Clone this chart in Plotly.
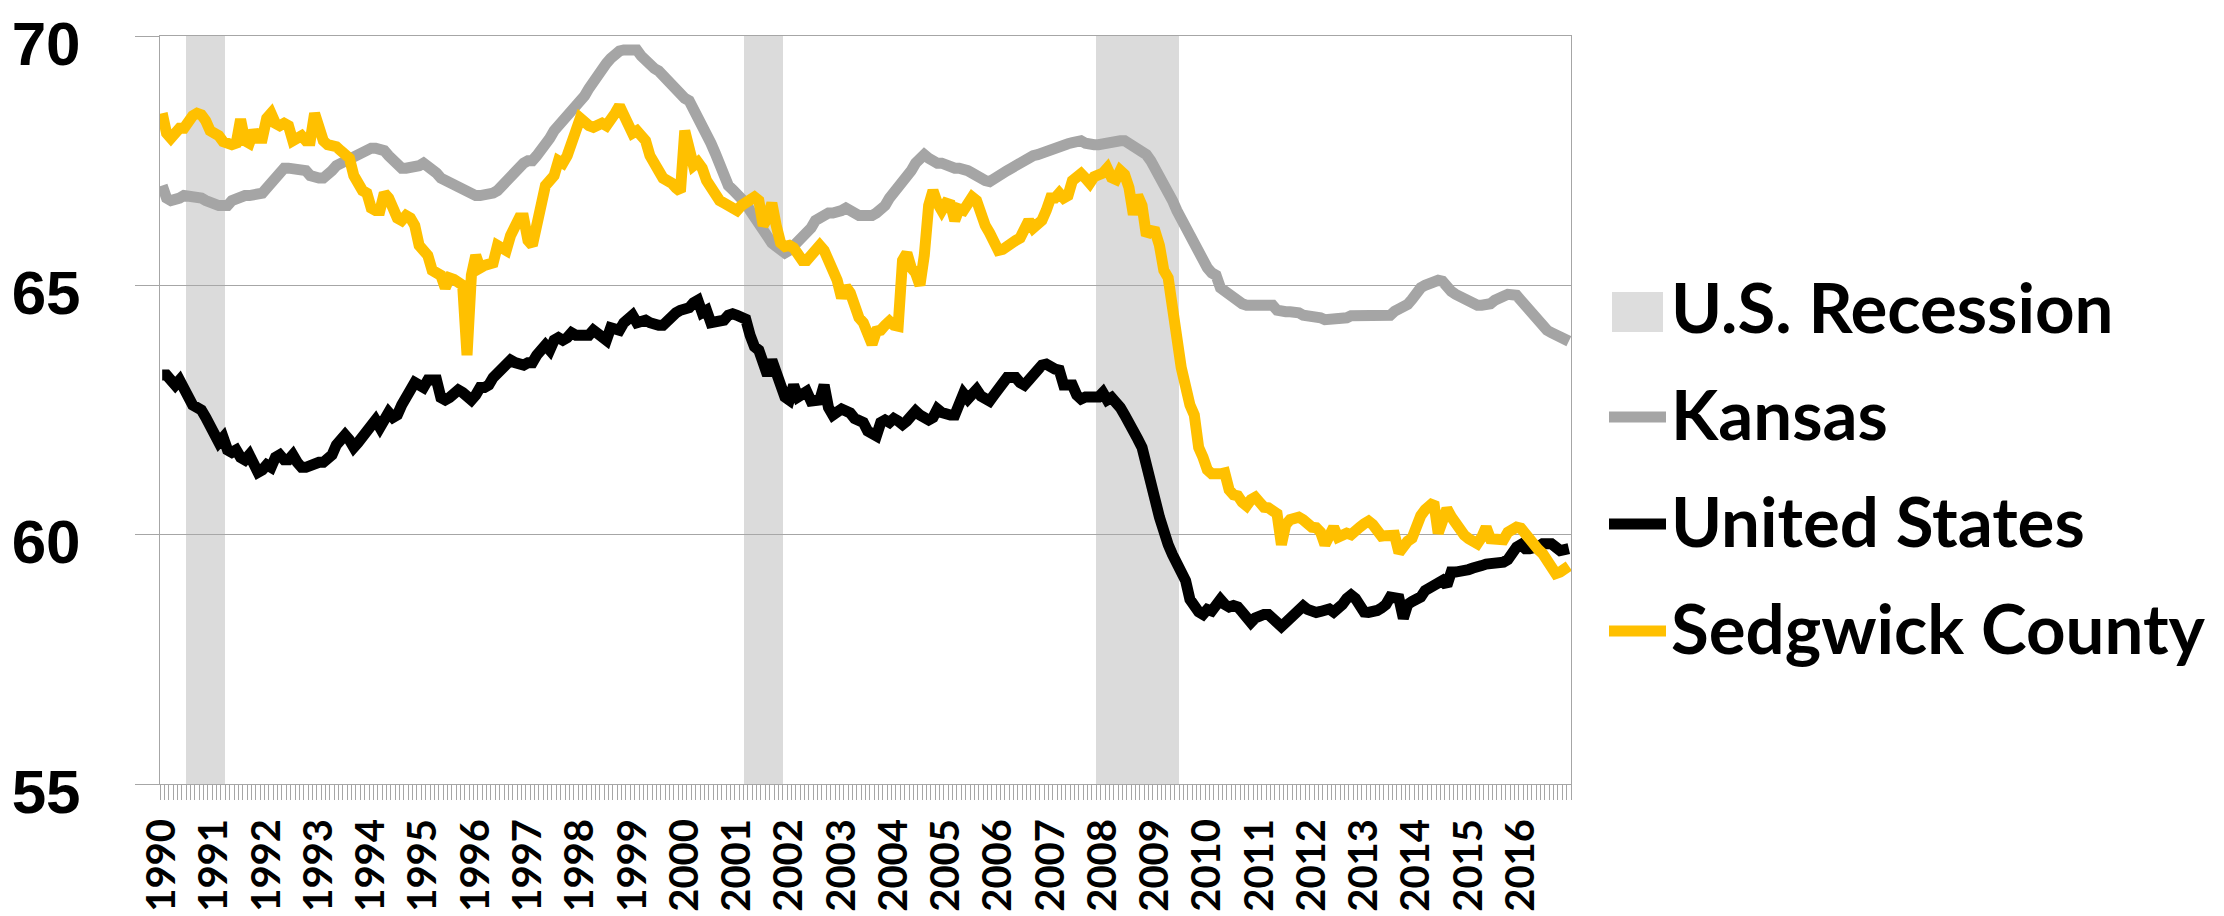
import pandas as pd
import plotly.graph_objects as go

# ---------------- data (monthly, Jan 1990 - Dec 2016) ----------------
start_month = "1990-01"
end_month = "2016-12"
years = list(range(1990, 2017))

recessions = [("1990-07", "1991-03"), ("2001-03", "2001-11"), ("2007-12", "2009-06")]
recession_value = 70

kansas = [
    67.0, 66.75, 66.7, 66.7, 66.75, 66.8, 66.8, 66.8, 66.8, 66.75, 66.7, 66.65,
    66.6, 66.6, 66.6, 66.6, 66.7, 66.75, 66.8, 66.8, 66.8, 66.8, 66.8, 66.85,
    66.95, 67.05, 67.15, 67.25, 67.35, 67.35, 67.35, 67.35, 67.35, 67.3, 67.2, 67.15,
    67.15, 67.15, 67.2, 67.3, 67.4, 67.45, 67.45, 67.5, 67.6, 67.6, 67.65, 67.7,
    67.75, 67.75, 67.75, 67.7, 67.6, 67.5, 67.4, 67.35, 67.35, 67.35, 67.35, 67.4,
    67.45, 67.4, 67.35, 67.25, 67.15, 67.1, 67.05, 67.05, 67.0, 66.95, 66.9, 66.85,
    66.8, 66.8, 66.8, 66.8, 66.85, 66.9, 67.0, 67.1, 67.2, 67.3, 67.4, 67.45,
    67.5, 67.5, 67.6, 67.7, 67.8, 67.95, 68.1, 68.2, 68.25, 68.35, 68.45, 68.55,
    68.65, 68.8, 68.95, 69.1, 69.25, 69.35, 69.45, 69.55, 69.65, 69.7, 69.72, 69.72,
    69.72, 69.72, 69.6, 69.5, 69.4, 69.35, 69.3, 69.2, 69.1, 69.0, 68.9, 68.85,
    68.75, 68.7, 68.55, 68.4, 68.25, 68.05, 67.85, 67.65, 67.4, 67.2, 67.0, 66.92,
    66.85, 66.75, 66.65, 66.5, 66.35, 66.2, 66.1, 65.95, 65.85, 65.78, 65.72, 65.65,
    65.7, 65.78, 65.85, 65.95, 66.05, 66.15, 66.3, 66.35, 66.42, 66.45, 66.45, 66.45,
    66.5, 66.55, 66.5, 66.42, 66.4, 66.4, 66.38, 66.4, 66.45, 66.5, 66.6, 66.75,
    66.85, 66.95, 67.05, 67.12, 67.3, 67.45, 67.55, 67.62, 67.55, 67.47, 67.45, 67.45,
    67.4, 67.37, 67.35, 67.35, 67.35, 67.3, 67.25, 67.18, 67.12, 67.1, 67.08, 67.12,
    67.2, 67.25, 67.3, 67.35, 67.4, 67.48, 67.55, 67.58, 67.6, 67.62, 67.66, 67.7,
    67.74, 67.78, 67.82, 67.82, 67.84, 67.86, 67.88, 67.9, 67.85, 67.82, 67.82, 67.82,
    67.84, 67.86, 67.9, 67.9, 67.9, 67.9, 67.85, 67.78, 67.72, 67.68, 67.62, 67.5,
    67.35, 67.25, 67.1, 66.92, 66.7, 66.5, 66.32, 66.15, 66.0, 65.85, 65.65, 65.45,
    65.35, 65.25, 65.2, 64.95, 64.88, 64.78, 64.72, 64.68, 64.63, 64.6, 64.6, 64.6,
    64.6, 64.6, 64.6, 64.6, 64.5, 64.47, 64.47, 64.47, 64.47, 64.45, 64.4, 64.39,
    64.39, 64.39, 64.35, 64.31, 64.31, 64.31, 64.31, 64.32, 64.35, 64.39, 64.39, 64.39,
    64.39, 64.39, 64.39, 64.39, 64.39, 64.39, 64.4, 64.48, 64.52, 64.55, 64.62, 64.72,
    64.85, 64.95, 65.0, 65.05, 65.1, 65.1, 65.08, 64.95, 64.88, 64.82, 64.78, 64.74,
    64.68, 64.6, 64.6, 64.6, 64.6, 64.63, 64.7, 64.72, 64.78, 64.82, 64.82, 64.8,
    64.7, 64.6, 64.48, 64.38, 64.28, 64.15, 64.1, 64.05, 64.0, 63.96, 63.92, 63.88,
]

united_states = [
    63.2, 63.2, 63.1, 63.0, 63.1, 62.9, 62.8, 62.6, 62.55, 62.5, 62.35, 62.2,
    62.0, 61.85, 61.95, 61.7, 61.65, 61.7, 61.55, 61.5, 61.6, 61.45, 61.25, 61.3,
    61.4, 61.35, 61.55, 61.6, 61.5, 61.5, 61.6, 61.45, 61.35, 61.35, 61.4, 61.4,
    61.45, 61.45, 61.5, 61.6, 61.8, 61.9, 62.0, 61.9, 61.75, 61.85, 61.95, 62.05,
    62.15, 62.3, 62.15, 62.3, 62.45, 62.35, 62.4, 62.6, 62.8, 62.9, 63.05, 63.0,
    62.95, 63.1, 63.1, 63.1, 62.75, 62.7, 62.75, 62.8, 62.9, 62.85, 62.8, 62.7,
    62.8, 62.95, 62.95, 63.0, 63.15, 63.25, 63.35, 63.4, 63.5, 63.45, 63.4, 63.4,
    63.45, 63.45, 63.6, 63.75, 63.8, 63.7, 63.9, 63.95, 63.9, 63.95, 64.05, 64.0,
    64.0, 64.0, 64.0, 64.1, 64.05, 63.95, 63.9, 64.15, 64.15, 64.1, 64.25, 64.35,
    64.4, 64.25, 64.3, 64.3, 64.25, 64.2, 64.2, 64.2, 64.3, 64.4, 64.45, 64.5,
    64.5, 64.55, 64.65, 64.7, 64.45, 64.5, 64.25, 64.25, 64.25, 64.3, 64.4, 64.43,
    64.4, 64.38, 64.32, 64.0, 63.77, 63.7, 63.4, 63.2, 63.5, 63.2, 63.0, 62.76,
    62.7, 63.0, 62.76, 62.8, 62.87, 62.68, 62.68, 62.7, 63.0, 62.55, 62.4, 62.45,
    62.52, 62.48, 62.44, 62.33, 62.3, 62.25, 62.08, 62.02, 61.98, 62.25, 62.3, 62.25,
    62.33, 62.28, 62.21, 62.28, 62.35, 62.48, 62.4, 62.33, 62.3, 62.35, 62.52, 62.45,
    62.4, 62.4, 62.4, 62.7, 62.83, 62.72, 62.8, 62.91, 62.78, 62.72, 62.68, 62.8,
    62.95, 63.1, 63.15, 63.15, 63.15, 63.05, 63.0, 63.1, 63.2, 63.34, 63.4, 63.42,
    63.35, 63.32, 63.3, 63.0, 63.0, 63.0, 62.8, 62.72, 62.76, 62.75, 62.72, 62.76,
    62.85, 62.7, 62.75, 62.68, 62.55, 62.4, 62.2, 62.05, 61.92, 61.75, 61.45, 61.1,
    60.7, 60.35, 60.0, 59.8, 59.6, 59.45, 59.3, 59.08, 58.7, 58.55, 58.45, 58.4,
    58.5, 58.47, 58.6, 58.7, 58.6, 58.55, 58.58, 58.55, 58.45, 58.3, 58.24, 58.33,
    58.38, 58.4, 58.4, 58.32, 58.22, 58.16, 58.24, 58.33, 58.45, 58.51, 58.57, 58.5,
    58.44, 58.44, 58.46, 58.48, 58.51, 58.45, 58.5, 58.6, 58.72, 58.79, 58.72, 58.55,
    58.45, 58.44, 58.44, 58.48, 58.53, 58.6, 58.75, 58.75, 58.72, 58.32, 58.6, 58.66,
    58.7, 58.75, 58.88, 58.92, 58.98, 59.05, 59.08, 58.98, 59.25, 59.25, 59.25, 59.27,
    59.3, 59.33, 59.33, 59.38, 59.41, 59.41, 59.41, 59.42, 59.45, 59.5, 59.65, 59.75,
    59.8, 59.72, 59.72, 59.73, 59.76, 59.82, 59.84, 59.82, 59.75, 59.68, 59.7, 59.72,
]

sedgwick_county = [
    68.45, 68.05, 67.95, 68.05, 68.15, 68.15, 68.3, 68.4, 68.45, 68.42, 68.3, 68.1,
    68.05, 68.0, 67.88, 67.85, 67.82, 67.85, 68.33, 67.9, 67.85, 68.1, 67.95, 67.95,
    68.35, 68.45, 68.25, 68.2, 68.25, 68.2, 67.9, 67.95, 68.0, 67.9, 67.9, 68.45,
    68.05, 67.9, 67.82, 67.8, 67.78, 67.7, 67.65, 67.55, 67.2, 67.0, 66.9, 66.85,
    66.55, 66.5, 66.5, 66.85, 66.75, 66.55, 66.35, 66.3, 66.4, 66.35, 66.2, 65.8,
    65.65, 65.6, 65.3, 65.25, 65.2, 64.95, 65.15, 65.12, 65.05, 65.0, 63.6, 65.2,
    65.6, 65.35, 65.4, 65.4, 65.45, 65.8, 65.75, 65.7, 66.0, 66.2, 66.35, 66.35,
    65.9, 65.8, 66.2, 66.55, 67.0, 67.1, 67.2, 67.5, 67.45, 67.6, 67.8, 68.1,
    68.35, 68.25, 68.2, 68.17, 68.2, 68.25, 68.2, 68.3, 68.45, 68.6, 68.4, 68.15,
    68.05, 68.1, 68.0, 67.9, 67.6, 67.4, 67.3, 67.15, 67.12, 67.05, 66.95, 66.88,
    68.1, 67.6, 67.4, 67.47, 67.35, 67.1, 66.95, 66.85, 66.7, 66.65, 66.6, 66.57,
    66.5, 66.6, 66.65, 66.72, 66.77, 66.7, 66.2, 66.35, 66.65, 66.2, 65.85, 65.78,
    65.8, 65.75, 65.62, 65.5, 65.5, 65.6, 65.75, 65.8, 65.7, 65.5, 65.35, 65.1,
    64.75, 64.97, 64.85, 64.55, 64.35, 64.25, 64.08, 63.82, 64.08, 64.1, 64.2, 64.28,
    64.2, 64.18, 65.5, 65.65, 65.35, 65.25, 65.0, 65.6, 66.6, 66.9, 66.65, 66.5,
    66.65, 66.62, 66.3, 66.53, 66.5, 66.65, 66.77, 66.7, 66.35, 66.2, 66.05, 65.85,
    65.7, 65.72, 65.8, 65.88, 65.9, 65.95, 66.2, 66.3, 66.15, 66.2, 66.3, 66.5,
    66.75, 66.75, 66.85, 66.75, 66.8, 67.1, 67.18, 67.24, 67.15, 67.05, 67.18, 67.2,
    67.25, 67.35, 67.16, 67.12, 67.3, 67.22, 66.96, 66.42, 66.8, 66.6, 66.0, 66.1,
    66.08, 65.8, 65.3, 65.15, 64.3, 63.95, 63.35, 62.85, 62.6, 62.4, 61.75, 61.55,
    61.3, 61.22, 61.2, 61.22, 61.24, 60.9, 60.8, 60.78, 60.65, 60.58, 60.7, 60.75,
    60.65, 60.55, 60.54, 60.48, 60.42, 59.8, 60.2, 60.3, 60.32, 60.35, 60.3, 60.22,
    60.15, 60.14, 60.05, 59.8, 60.05, 60.15, 59.95, 60.0, 60.03, 60.0, 60.05, 60.15,
    60.22, 60.27, 60.2, 60.1, 59.97, 59.98, 60.0, 59.99, 59.64, 59.8, 59.87, 59.93,
    60.25, 60.38, 60.5, 60.6, 60.65, 60.03, 60.31, 60.52, 60.36, 60.2, 60.08, 59.99,
    59.92, 59.85, 59.82, 59.95, 60.15, 59.92, 59.9, 59.88, 59.9, 60.05, 60.12, 60.15,
    60.13, 60.0, 59.9, 59.8, 59.7, 59.62, 59.5, 59.35, 59.22, 59.25, 59.3, 59.37,
]

y_ticks = [55, 60, 65, 70]

# ---------------- build ----------------
months = pd.period_range(start_month, end_month, freq="M")
month_labels = [m.strftime("%b %Y") for m in months]
x = list(range(len(months)))

rec_x, rec_y, rec_lbl = [], [], []
for a, b in recessions:
    pa, pb = pd.Period(a, "M"), pd.Period(b, "M")
    for i, m in enumerate(months):
        if pa <= m <= pb:
            rec_x.append(i)
            rec_y.append(recession_value)
            rec_lbl.append(month_labels[i])

GRID = "#A6A6A6"
REC = "rgba(170,170,170,0.42)"
series = [
    ("Kansas", kansas, "#A5A5A5"),
    ("United States", united_states, "#000000"),
    ("Sedgwick County", sedgwick_county, "#FFC000"),
]

fig = go.Figure()
fig.add_trace(go.Bar(
    x=rec_x, y=rec_y, width=1, name="U.S. Recession",
    marker=dict(color=REC, line=dict(width=0)),
    customdata=rec_lbl, hovertemplate="%{customdata}<extra>U.S. Recession</extra>",
    showlegend=False,
))
for name, vals, color in series:
    fig.add_trace(go.Scatter(
        x=x, y=vals, mode="lines", name=name,
        line=dict(color=color, width=11),
        customdata=month_labels,
        hovertemplate="%{customdata}: %{y}<extra>" + name + "</extra>",
        showlegend=False,
    ))

W, H = 2224, 916
ML, MR, MT, MB = 160, 653, 36, 132
pw, ph = W - ML - MR, H - MT - MB


def xp(px):
    return (px - ML) / pw


def yp(py):
    return (H - MB - py) / ph


LEG_FONT = dict(family="Lato", size=69, color="black", weight="bold")
legend_items = [("U.S. Recession", "#DDDDDD", "box"),
                ("Kansas", "#A5A5A5", "line"),
                ("United States", "#000000", "line"),
                ("Sedgwick County", "#FFC000", "line")]
shapes, annotations = [], []
row0, step = 306, 107
for k, (label, color, kind) in enumerate(legend_items):
    cy = row0 + k * step
    if kind == "box":
        shapes.append(dict(type="rect", xref="paper", yref="paper",
                           x0=xp(1612), x1=xp(1663), y0=yp(cy + 26), y1=yp(cy - 14),
                           fillcolor=color, line=dict(width=0)))
    else:
        shapes.append(dict(type="line", xref="paper", yref="paper",
                           x0=xp(1609), x1=xp(1666), y0=yp(cy + 4), y1=yp(cy + 4),
                           line=dict(color=color, width=11)))
    annotations.append(dict(text=label, xref="paper", yref="paper",
                            x=xp(1669), y=yp(cy), xanchor="left", yanchor="middle",
                            showarrow=False, font=LEG_FONT))

fig.update_layout(
    width=W, height=H, autosize=False,
    margin=dict(l=ML, r=MR, t=MT, b=MB, autoexpand=False),
    paper_bgcolor="white", plot_bgcolor="white",
    bargap=0, showlegend=False,
    shapes=shapes, annotations=annotations,
    xaxis=dict(
        automargin=False,
        range=[-0.5, len(months) - 0.5],
        tickmode="array",
        tickvals=[12 * i for i in range(len(years))],
        ticktext=[str(y) for y in years],
        tickangle=-90,
        ticks="",
        ticklabelstandoff=18,
        tickfont=dict(family="Lato", size=40, color="black", weight="bold"),
        showgrid=False, zeroline=False,
        showline=True, linecolor=GRID, linewidth=1, mirror=True,
        minor=dict(ticks="outside", tick0=-0.5, dtick=1, ticklen=15,
                   tickcolor=GRID, tickwidth=1, showgrid=False),
    ),
    yaxis=dict(
        automargin=False,
        range=[55, 70],
        tickmode="array", tickvals=y_ticks,
        ticks="outside", ticklen=24, tickcolor=GRID, tickwidth=1,
        ticklabelstandoff=42,
        ticklabelshift=7,
        ticklabeloverflow="allow",
        tickfont=dict(family="Liberation Sans", size=62, color="black", weight="bold"),
        showgrid=True, gridcolor=GRID, gridwidth=1,
        zeroline=False,
        showline=True, linecolor=GRID, linewidth=1, mirror=True,
    ),
)

fig.write_html("out.html", config={"displayModeBar": False},
               post_script="document.body.style.margin='0';")
